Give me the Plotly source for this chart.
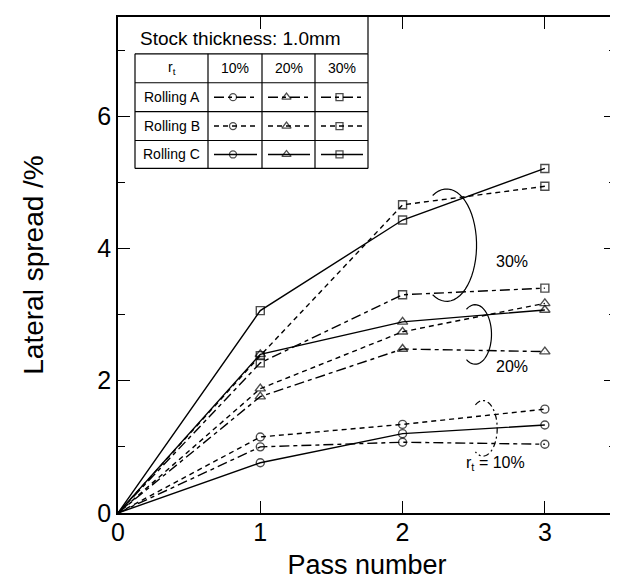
import numpy as np
import plotly.graph_objects as go

# ---------------- data ----------------
passes = [0, 1, 2, 3]
rt_labels = ["10%", "20%", "30%"]
rolling_labels = ["Rolling A", "Rolling B", "Rolling C"]

rolling_a_10 = [0, 1.00, 1.07, 1.04]
rolling_b_10 = [0, 1.15, 1.34, 1.57]
rolling_c_10 = [0, 0.76, 1.20, 1.33]
rolling_a_20 = [0, 1.76, 2.48, 2.44]
rolling_b_20 = [0, 1.88, 2.74, 3.17]
rolling_c_20 = [0, 2.40, 2.89, 3.07]
rolling_a_30 = [0, 2.27, 3.30, 3.40]
rolling_b_30 = [0, 2.38, 4.66, 4.94]
rolling_c_30 = [0, 3.06, 4.43, 5.21]

series = {
    ("Rolling A", "10%"): rolling_a_10,
    ("Rolling B", "10%"): rolling_b_10,
    ("Rolling C", "10%"): rolling_c_10,
    ("Rolling A", "20%"): rolling_a_20,
    ("Rolling B", "20%"): rolling_b_20,
    ("Rolling C", "20%"): rolling_c_20,
    ("Rolling A", "30%"): rolling_a_30,
    ("Rolling B", "30%"): rolling_b_30,
    ("Rolling C", "30%"): rolling_c_30,
}

# ---------------- styles ----------------
FONT = "Liberation Sans, Arial, Helvetica, sans-serif"
dash_of = {"Rolling A": "10px,4px,4px,4px", "Rolling B": "5px,4px", "Rolling C": "solid"}
symbol_of = {"10%": "circle-open", "20%": "triangle-up-open", "30%": "square-open"}
msize_of = {"10%": 8, "20%": 9, "30%": 8}

fig = go.Figure()

for (roll, rt), vals in series.items():
    fig.add_trace(go.Scatter(
        x=passes, y=vals, mode="lines+markers", showlegend=False,
        line=dict(color="black", width=1.4, dash=dash_of[roll]),
        marker=dict(symbol=symbol_of[rt], size=[0] + [msize_of[rt]] * 3,
                    color="black", line=dict(color="black", width=1.4)),
        cliponaxis=False,
    ))

# ---------------- legend table (overlay axes in pixel units of the plot area) ----------------
PW, PH = 498, 498
col_edges = [17, 90, 144, 197, 250]
row_edges = [37, 66, 95, 124, 152]

shapes = []
shapes.append(dict(type="line", xref="x2", yref="y2", x0=250, x1=250, y0=0, y1=row_edges[0],
                   line=dict(color="black", width=1.2)))
for xe in col_edges:
    shapes.append(dict(type="line", xref="x2", yref="y2", x0=xe, x1=xe,
                       y0=row_edges[0], y1=row_edges[-1], line=dict(color="black", width=1.2)))
for ye in row_edges:
    shapes.append(dict(type="line", xref="x2", yref="y2", x0=col_edges[0], x1=col_edges[-1],
                       y0=ye, y1=ye, line=dict(color="black", width=1.2)))

annotations = []
annotations.append(dict(xref="x2", yref="y2", x=20, y=22, text="Stock thickness: 1.0mm",
                        showarrow=False, xanchor="left", yanchor="middle",
                        font=dict(family=FONT, size=19, color="black")))
annotations.append(dict(xref="x2", yref="y2", x=(col_edges[0] + col_edges[1]) / 2,
                        y=(row_edges[0] + row_edges[1]) / 2, text="r<sub>t</sub>",
                        showarrow=False, font=dict(family=FONT, size=14, color="black")))
for j, rt in enumerate(rt_labels):
    annotations.append(dict(xref="x2", yref="y2", x=(col_edges[j + 1] + col_edges[j + 2]) / 2,
                            y=(row_edges[0] + row_edges[1]) / 2, text=rt, showarrow=False,
                            font=dict(family=FONT, size=14, color="black")))
for i, roll in enumerate(rolling_labels):
    cy = (row_edges[i + 1] + row_edges[i + 2]) / 2
    annotations.append(dict(xref="x2", yref="y2", x=(col_edges[0] + col_edges[1]) / 2, y=cy,
                            text=roll, showarrow=False,
                            font=dict(family=FONT, size=14, color="black")))
    for j, rt in enumerate(rt_labels):
        cl, cr = col_edges[j + 1], col_edges[j + 2]
        fig.add_trace(go.Scatter(
            x=[cl + 6, (cl + cr) / 2 - 2, cr - 5], y=[cy, cy, cy], xaxis="x2", yaxis="y2",
            mode="lines+markers", showlegend=False, hoverinfo="skip",
            line=dict(color="black", width=1.4, dash=dash_of[roll]),
            marker=dict(symbol=symbol_of[rt], size=[0, msize_of[rt] - 1, 0], color="black",
                        line=dict(color="black", width=1.3)),
        ))

# ---------------- grouping ellipses ----------------
def arc_path(cx, cy, rx, ry, a0, a1, n=40):
    t = np.radians(np.linspace(a0, a1, n))
    xs = cx + rx * np.cos(t)
    ys = cy + ry * np.sin(t)
    return "M " + " L ".join(f"{x:.4f},{y:.4f}" for x, y in zip(xs, ys))

shapes.append(dict(type="path", xref="x", yref="y",
                   path=arc_path(2.31, 4.05, 0.21, 0.85, 118, -118),
                   line=dict(color="black", width=1.2)))
shapes.append(dict(type="path", xref="x", yref="y",
                   path=arc_path(2.51, 2.70, 0.115, 0.45, 122, -122),
                   line=dict(color="black", width=1.2)))
shapes.append(dict(type="path", xref="x", yref="y",
                   path=arc_path(2.565, 1.28, 0.10, 0.42, 122, -122),
                   line=dict(color="black", width=1.2, dash="6px,3px,2px,3px")))

annotations += [
    dict(x=2.77, y=3.80, text="30%", showarrow=False, font=dict(family=FONT, size=16, color="black")),
    dict(x=2.77, y=2.21, text="20%", showarrow=False, font=dict(family=FONT, size=16, color="black")),
    dict(x=2.65, y=0.75, text="r<sub>t</sub> = 10%", showarrow=False,
         font=dict(family=FONT, size=16, color="black")),
]

axis_common = dict(showline=True, linecolor="black", linewidth=1.5, mirror="ticks",
                   ticks="inside", tickcolor="black", tickwidth=1.3, showgrid=False,
                   zeroline=False, tickfont=dict(family=FONT, size=25, color="black"))

fig.update_layout(
    width=618, height=581,
    margin=dict(l=110, r=10, t=7, b=76),
    paper_bgcolor="white", plot_bgcolor="white",
    xaxis=dict(range=[0, 3.5], tick0=0, dtick=1, ticklen=12, ticklabelstandoff=-4,
               title=dict(text="Pass number", font=dict(family=FONT, size=27, color="black"), standoff=10),
               **axis_common),
    yaxis=dict(range=[0, 7.5], tick0=0, dtick=2, ticklen=12,
               minor=dict(dtick=1, tick0=0, ticks="inside", ticklen=7, tickcolor="black", tickwidth=1.2),
               title=dict(text="Lateral spread /%", font=dict(family=FONT, size=28, color="black"), standoff=46),
               **axis_common),
    xaxis2=dict(overlaying="x", anchor="y2", range=[0, PW], visible=False, fixedrange=True),
    yaxis2=dict(overlaying="y", anchor="x2", range=[PH, 0], visible=False, fixedrange=True),
    shapes=shapes, annotations=annotations,
)

fig.write_html("out.html")
